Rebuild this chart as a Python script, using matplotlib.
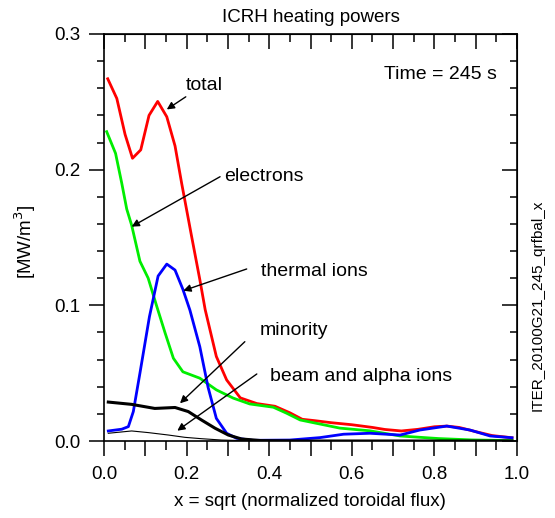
import matplotlib
matplotlib.use("Agg")
from matplotlib import pyplot as plt
from matplotlib.ticker import MultipleLocator, FuncFormatter

plt.rcParams["font.family"] = ["Liberation Sans", "DejaVu Sans"]
plt.rcParams["font.size"] = 13.5

# total
x_tot = [0.009, 0.031, 0.051, 0.069, 0.089, 0.109, 0.130, 0.152, 0.172, 0.188, 0.212, 0.232, 0.245, 0.272,
         0.297, 0.330, 0.370, 0.414, 0.450, 0.48, 0.51, 0.55, 0.60, 0.65, 0.68, 0.72, 0.76, 0.80, 0.83, 0.86,
         0.90, 0.94, 0.988]
y_tot = [0.267, 0.2525, 0.226, 0.2084, 0.2146, 0.240, 0.2503, 0.239, 0.2175, 0.190, 0.151, 0.119, 0.0968, 0.0623,
         0.045, 0.0318, 0.0276, 0.0256, 0.0208, 0.016, 0.015, 0.0135, 0.012, 0.010, 0.0085, 0.0074, 0.0086, 0.0105,
         0.011, 0.010, 0.0069, 0.0040, 0.0024]
# electrons
x_el = [0.0065, 0.028, 0.043, 0.055, 0.067, 0.087, 0.107, 0.128, 0.148, 0.168, 0.191, 0.232, 0.272, 0.313, 0.353,
        0.410, 0.442, 0.475, 0.523, 0.571, 0.644, 0.717, 0.81, 0.89, 0.988]
y_el = [0.228, 0.212, 0.190, 0.171, 0.159, 0.1325, 0.120, 0.099, 0.0796, 0.061, 0.051, 0.0463, 0.0377, 0.0316, 0.0273,
        0.0249, 0.0205, 0.0155, 0.0125, 0.0095, 0.0075, 0.0037, 0.0018, 0.0008, 0.0003]
# thermal ions
x_th = [0.0104, 0.043, 0.059, 0.071, 0.087, 0.110, 0.131, 0.152, 0.172, 0.191, 0.208, 0.232, 0.252, 0.272, 0.297,
        0.321, 0.36, 0.45, 0.523, 0.58, 0.644, 0.717, 0.765, 0.83, 0.886, 0.935, 0.988]
y_th = [0.0074, 0.0087, 0.0106, 0.0217, 0.050, 0.0916, 0.1216, 0.1304, 0.126, 0.1118, 0.0965, 0.0695, 0.0396, 0.0167,
        0.0057, 0.002, 0.0005, 0.0007, 0.0025, 0.005, 0.0057, 0.0044, 0.0081, 0.011, 0.0081, 0.0037, 0.0024]
# minority
x_mi = [0.0104, 0.067, 0.123, 0.172, 0.204, 0.236, 0.269, 0.301, 0.333, 0.38, 0.5, 0.988]
y_mi = [0.0287, 0.027, 0.024, 0.0247, 0.0217, 0.0155, 0.0094, 0.0044, 0.0015, 0.0003, 0.0, 0.0]
# beam and alpha ions
x_ba = [0.0104, 0.067, 0.107, 0.156, 0.196, 0.236, 0.285, 0.35, 0.988]
y_ba = [0.0057, 0.0074, 0.0062, 0.0044, 0.0027, 0.0017, 0.0007, 0.0002, 0.0]

fig = plt.figure(figsize=(5.55, 5.18), dpi=100)
ax = fig.add_axes([104 / 555, 1 - 441 / 518, 413 / 555, 407 / 518])

ax.plot(x_tot, y_tot, color="#ff0000", lw=2)
ax.plot(x_el, y_el, color="#00ee00", lw=2)
ax.plot(x_th, y_th, color="#0000ff", lw=2)
ax.plot(x_mi, y_mi, color="black", lw=2.2)
ax.plot(x_ba, y_ba, color="black", lw=0.8)

ax.set_xlim(0, 1)
ax.set_ylim(0, 0.3)
for s in ax.spines.values():
    s.set_linewidth(1.2)

ax.xaxis.set_major_locator(MultipleLocator(0.1))
ax.xaxis.set_minor_locator(MultipleLocator(0.05))
ax.yaxis.set_major_locator(MultipleLocator(0.1))
ax.yaxis.set_minor_locator(MultipleLocator(0.02))
ax.xaxis.set_major_formatter(FuncFormatter(lambda v, p: "%.1f" % v if round(v * 10) % 2 == 0 else ""))
ax.yaxis.set_major_formatter(FuncFormatter(lambda v, p: "%.1f" % v))
ax.tick_params(axis="x", which="major", direction="out", length=11, width=1.1, pad=7)
ax.tick_params(axis="x", which="minor", direction="out", length=6.5, width=1.1)
ax.tick_params(axis="y", which="major", direction="out", length=11, width=1.1, pad=6)
ax.tick_params(axis="y", which="minor", direction="out", length=5, width=1.1)

top = ax.secondary_xaxis("top")
top.xaxis.set_major_locator(MultipleLocator(0.1))
top.xaxis.set_minor_locator(MultipleLocator(0.05))
top.tick_params(which="major", direction="in", length=11, width=1.1, labeltop=False)
top.tick_params(which="minor", direction="in", length=6, width=1.1)
right = ax.secondary_yaxis("right")
right.yaxis.set_major_locator(MultipleLocator(0.1))
right.yaxis.set_minor_locator(MultipleLocator(0.02))
right.tick_params(which="major", direction="in", length=11, width=1.1, labelright=False)
right.tick_params(which="minor", direction="in", length=5, width=1.1)

ax.set_title("ICRH heating powers", fontsize=13.5, pad=9)
fig.text(310 / 555, 1 - 502 / 518, "x = sqrt (normalized toroidal flux)", ha="center", va="center", fontsize=13.5)
fig.text(25 / 555, 1 - 242 / 518, "[MW/m$^3$]", rotation=90, ha="center", va="center", fontsize=13.5)
fig.text(538 / 555, 1 - 305 / 518, "ITER_20100G21_245_qrfbal_x", rotation=90, ha="center", va="center", fontsize=11)

ax.text(0.952, 0.27, "Time = 245 s", ha="right", va="center", fontsize=14)

labels = ["total", "electrons", "thermal ions", "minority", "beam and alpha ions"]
lab_x = [0.243, 0.387, 0.510, 0.459, 0.623]
lab_y = [0.262, 0.1946, 0.1248, 0.0818, 0.0474]
tail_x = [0.198, 0.281, 0.3455, 0.341, 0.370]
tail_y = [0.2537, 0.1948, 0.1268, 0.0732, 0.0494]
head_x = [0.152, 0.067, 0.192, 0.184, 0.1775]
head_y = [0.2444, 0.158, 0.1108, 0.0278, 0.0076]
for i in range(len(labels)):
    ax.text(lab_x[i], lab_y[i], labels[i], ha="center", va="center", fontsize=14)
    ax.annotate("", xy=(head_x[i], head_y[i]), xytext=(tail_x[i], tail_y[i]),
                arrowprops=dict(arrowstyle="-|>", color="black", lw=1, mutation_scale=11,
                                shrinkA=0, shrinkB=0))

fig.savefig("out.png", dpi=100)
